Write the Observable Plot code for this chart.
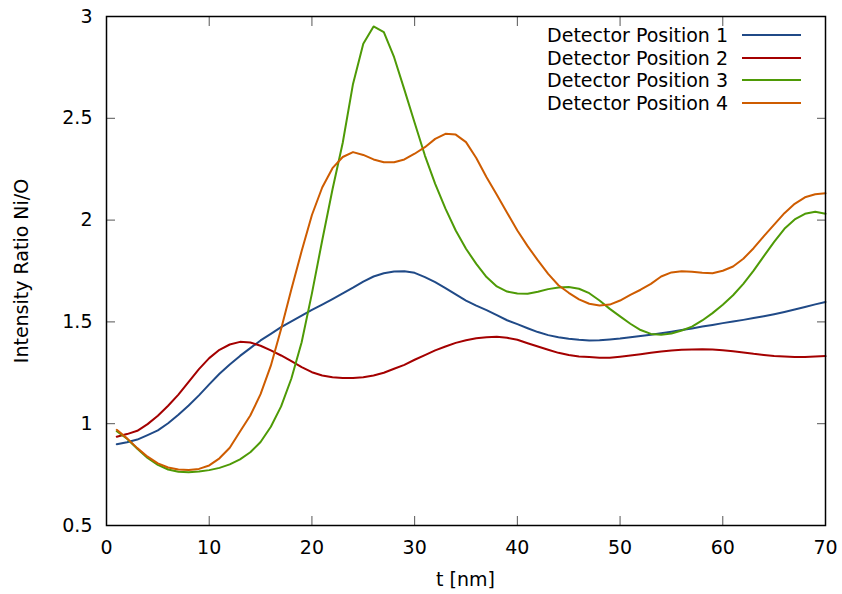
<!DOCTYPE html>
<html>
<head>
<meta charset="utf-8">
<script src="https://cdn.jsdelivr.net/npm/d3@7"></script>
<script src="https://cdn.jsdelivr.net/npm/@observablehq/plot@0.6"></script>
<style>
  body { margin: 0; background: #fff; }
  #wrap { position: relative; width: 842px; height: 594px; font-family: "DejaVu Sans", sans-serif; color: #000; }
  #wrap svg { position: absolute; left: 0; top: 0; }
  .lab { position: absolute; font-size: 19px; line-height: 22px; white-space: nowrap; }
  .leg-text { position: absolute; font-size: 19px; line-height: 22px; white-space: nowrap; text-align: right; width: 300px; }
  .leg-line { position: absolute; height: 2px; }
</style>
</head>
<body>
<div id="wrap"></div>
<script>
const t = [1,2,3,4,5,6,7,8,9,10,11,12,13,14,15,16,17,18,19,20,
           21,22,23,24,25,26,27,28,29,30,31,32,33,34,35,36,37,38,39,40,
           41,42,43,44,45,46,47,48,49,50,51,52,53,54,55,56,57,58,59,60,
           61,62,63,64,65,66,67,68,69,70];

const pos1 = [0.899,0.909,0.922,0.944,0.967,1.002,1.044,1.089,1.139,1.193,
              1.245,1.291,1.333,1.371,1.409,1.441,1.474,1.502,1.531,1.559,
              1.585,1.612,1.640,1.668,1.698,1.723,1.739,1.748,1.749,1.741,
              1.720,1.695,1.666,1.635,1.605,1.580,1.558,1.533,1.508,1.489,
              1.469,1.450,1.435,1.425,1.417,1.412,1.409,1.410,1.414,1.418,
              1.425,1.431,1.437,1.444,1.452,1.460,1.468,1.477,1.485,1.494,
              1.502,1.510,1.519,1.528,1.538,1.549,1.561,1.573,1.586,1.598];

const pos2 = [0.936,0.949,0.965,0.998,1.039,1.088,1.143,1.206,1.268,1.322,
              1.363,1.389,1.402,1.399,1.383,1.360,1.335,1.307,1.278,1.253,
              1.237,1.228,1.224,1.225,1.228,1.237,1.250,1.270,1.289,1.314,
              1.337,1.360,1.379,1.397,1.410,1.420,1.425,1.427,1.422,1.412,
              1.395,1.379,1.363,1.348,1.337,1.330,1.327,1.324,1.324,1.329,
              1.335,1.341,1.348,1.355,1.360,1.363,1.364,1.366,1.364,1.361,
              1.356,1.350,1.343,1.338,1.333,1.330,1.328,1.328,1.330,1.332];

const pos3 = [0.963,0.926,0.877,0.832,0.798,0.775,0.764,0.762,0.765,0.772,
              0.783,0.800,0.825,0.860,0.910,0.985,1.085,1.222,1.400,1.640,
              1.900,2.150,2.380,2.669,2.866,2.951,2.923,2.800,2.641,2.478,
              2.317,2.178,2.056,1.949,1.859,1.785,1.720,1.674,1.649,1.639,
              1.638,1.648,1.661,1.669,1.671,1.663,1.641,1.605,1.564,1.527,
              1.491,1.460,1.441,1.437,1.443,1.458,1.477,1.507,1.543,1.584,
              1.631,1.687,1.752,1.823,1.893,1.957,2.003,2.031,2.041,2.031];

const pos4 = [0.970,0.928,0.880,0.838,0.805,0.785,0.775,0.773,0.778,0.795,
              0.830,0.882,0.962,1.040,1.145,1.285,1.465,1.660,1.848,2.025,
              2.160,2.255,2.310,2.334,2.320,2.298,2.284,2.284,2.298,2.326,
              2.358,2.399,2.424,2.420,2.383,2.305,2.210,2.124,2.036,1.949,
              1.872,1.802,1.736,1.680,1.643,1.611,1.589,1.581,1.585,1.605,
              1.633,1.658,1.687,1.723,1.743,1.749,1.746,1.741,1.739,1.751,
              1.772,1.810,1.862,1.921,1.978,2.034,2.080,2.112,2.127,2.132];

const seriesNames = ["Detector Position 1","Detector Position 2","Detector Position 3","Detector Position 4"];
const seriesColors = ["#204a87","#a40000","#4e9a06","#ce5c00"];
const xTicks = [0,10,20,30,40,50,60,70];
const yTicks = [0.5,1,1.5,2,2.5,3];
const yTickLabels = ["0.5","1","1.5","2","2.5","3"];
const xTitle = "t [nm]";
const yTitle = "Intensity Ratio Ni/O";

const rows = [];
[pos1,pos2,pos3,pos4].forEach((arr,i) => arr.forEach((v,j) => rows.push({t: t[j], v, s: seriesNames[i]})));

const W = 842, H = 594, ML = 106, MR = 17, MT = 16, MB = 69;

const chart = Plot.plot({
  width: W, height: H,
  marginLeft: ML, marginRight: MR, marginTop: MT, marginBottom: MB,
  style: {fontFamily: "DejaVu Sans, sans-serif", fontSize: "19px", background: "white", color: "black", overflow: "visible"},
  x: {domain: [0,70]},
  y: {domain: [0.5,3]},
  color: {domain: seriesNames, range: seriesColors},
  marks: [
    Plot.axisX(xTicks, {anchor: "bottom", tickSize: 0, tickPadding: 15, label: null, fontSize: 19}),
    Plot.axisX(xTicks, {anchor: "bottom", tickSize: -9, tickFormat: () => "", label: null, stroke: "#555"}),
    Plot.axisX(xTicks, {anchor: "top", tickSize: -9, tickFormat: () => "", label: null, stroke: "#555"}),
    Plot.axisY(yTicks, {anchor: "left", tickSize: 0, tickPadding: 14, tickFormat: (d) => yTickLabels[yTicks.indexOf(d)], label: null, fontSize: 19}),
    Plot.axisY(yTicks, {anchor: "left", tickSize: -9, tickFormat: () => "", label: null, stroke: "#555"}),
    Plot.axisY(yTicks, {anchor: "right", tickSize: -9, tickFormat: () => "", label: null, stroke: "#555"}),
    Plot.line(rows, {x: "t", y: "v", z: "s", stroke: "s", strokeWidth: 2}),
    Plot.frame({stroke: "#000", strokeWidth: 1.5})
  ]
});

const wrap = document.getElementById("wrap");
wrap.appendChild(chart);

// axis titles
const xl = document.createElement("div");
xl.className = "lab";
xl.textContent = xTitle;
xl.style.left = (ML + (W - ML - MR) / 2) + "px";
xl.style.top = "568px";
xl.style.transform = "translateX(-50%)";
wrap.appendChild(xl);

const yl = document.createElement("div");
yl.className = "lab";
yl.textContent = yTitle;
yl.style.left = "21px";
yl.style.top = "271px";
yl.style.transform = "translate(-50%,-50%) rotate(-90deg)";
wrap.appendChild(yl);

// legend
seriesNames.forEach((name, i) => {
  const cy = 35.3 + 22.45 * i;
  const tx = document.createElement("div");
  tx.className = "leg-text";
  tx.textContent = name;
  tx.style.left = (728 - 300) + "px";
  tx.style.top = (cy - 11) + "px";
  wrap.appendChild(tx);
  const ln = document.createElement("div");
  ln.className = "leg-line";
  ln.style.left = "742px";
  ln.style.width = "59px";
  ln.style.top = (cy - 1) + "px";
  ln.style.background = seriesColors[i];
  wrap.appendChild(ln);
});
</script>
</body>
</html>
